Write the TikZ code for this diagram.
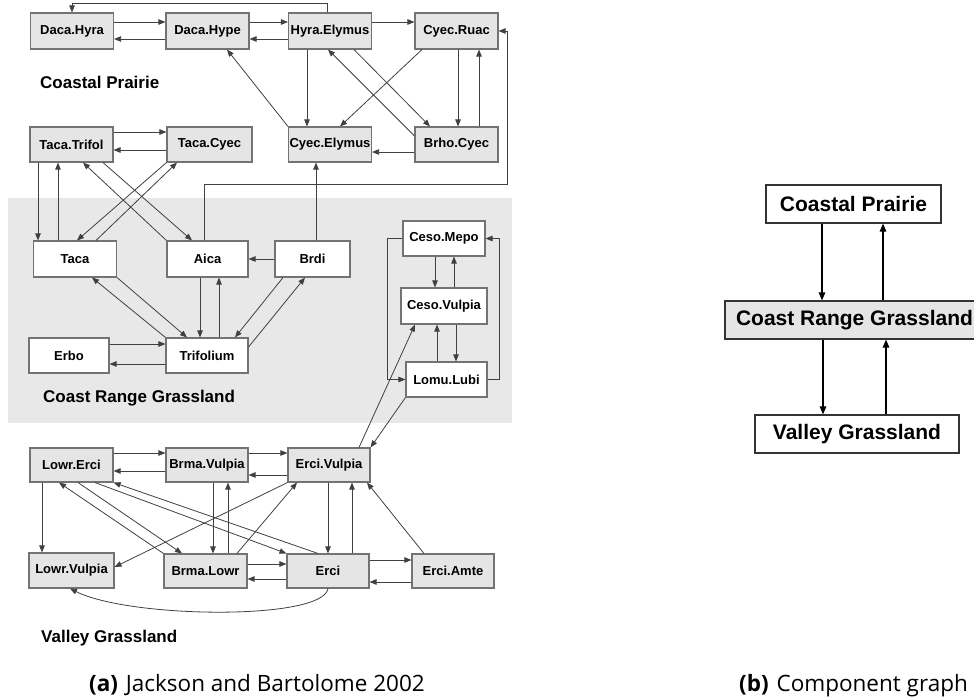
\documentclass[tikz,border=0pt]{standalone}
\usepackage{fontspec}
\setmainfont{Liberation Sans}
\newfontfamily\capfont{Open Sans}
\usetikzlibrary{arrows.meta}

\begin{document}
\begin{tikzpicture}[x=1pt,y=-1pt,
  boxbase/.style={draw=black!55, line width=1.1pt, minimum height=36pt,
    minimum width=83pt, inner sep=0pt, font=\bfseries\fontsize{13}{15}\selectfont},
  gbox/.style={boxbase, fill=gray!20},
  wbox/.style={boxbase, fill=white},
  conn/.style={draw=black!75, line width=0.8pt, -{Triangle[length=7pt,width=5.5pt]}},
  lbl/.style={inner sep=0pt, font=\bfseries\fontsize{17}{20}\selectfont},
  compbox/.style={draw=black!80, line width=1.2pt, fill=white, minimum height=38pt,
    inner sep=0pt, font=\bfseries\fontsize{21}{24}\selectfont},
  bigarr/.style={draw=black, line width=1.3pt, -{Triangle[length=8pt,width=6.5pt]}},
  captext/.style={inner sep=0pt, font=\capfont\fontsize{22.5}{26}\selectfont}
]
\useasboundingbox (0,0) rectangle (974,699);

% shaded band behind the coast range group
\fill[gray!18] (8,198) rectangle (512,423);

% ---- Coastal Prairie group ----
\node[gbox] (dhyra) at (72,31) {Daca.Hyra};
\node[gbox] (dhype) at (207.5,31) {Daca.Hype};
\node[gbox] (hyel) at (330,31) {Hyra.Elymus};
\node[gbox] (cyru) at (456.5,31) {Cyec.Ruac};
\node[gbox, minimum height=35pt] (tatr) at (71.5,144.5) {Taca.Trifol};
\node[gbox, minimum height=35pt, minimum width=85pt] (tacy) at (209.5,144.5) {Taca.Cyec};
\node[gbox, minimum height=35pt] (cyel) at (330,144.5) {Cyec.Elymus};
\node[gbox, minimum height=35pt] (brcy) at (456.5,144.5) {Brho.Cyec};

% ---- Coast Range Grassland group ----
\node[wbox] (taca) at (75,259) {Taca};
\node[wbox, minimum width=81pt] (aica) at (207.5,259) {Aica};
\node[wbox, minimum width=75pt] (brdi) at (312.5,259) {Brdi};
\node[wbox, minimum width=80pt, minimum height=35pt] (erbo) at (69,355.5) {Erbo};
\node[wbox, minimum width=82pt, minimum height=35pt] (trif) at (207,355.5) {Trifolium};
\node[wbox, minimum width=82pt, minimum height=35pt] (cemepo) at (444,238.5) {Ceso.Mepo};
\node[wbox, minimum width=86pt] (cevul) at (444,306) {Ceso.Vulpia};
\node[wbox, minimum width=81pt, minimum height=35pt] (lomu) at (446.5,379.5) {Lomu.Lubi};

% ---- Valley Grassland group ----
\node[gbox, minimum height=34pt] (loer) at (71.5,465) {Lowr.Erci};
\node[gbox, minimum height=34pt, minimum width=82pt] (brvu) at (207,465) {Brma.Vulpia};
\node[gbox, minimum height=34pt, minimum width=82pt] (ervu) at (329,465) {Erci.Vulpia};
\node[gbox, minimum height=35pt, minimum width=85pt] (lovu) at (71.5,570.5) {Lowr.Vulpia};
\node[gbox, minimum height=34pt] (brlo) at (205.5,571) {Brma.Lowr};
\node[gbox, minimum height=34pt, minimum width=82pt] (erci) at (328,571) {Erci};
\node[gbox, minimum height=34pt, minimum width=82pt] (eram) at (453,571) {Erci.Amte};

% group labels
\node[lbl, anchor=west] (lcp) at (40,82) {Coastal Prairie};
\node[lbl, anchor=west] (lcr) at (43,398) {Coast Range Grassland};
\node[lbl, anchor=west] (lvg) at (41,638) {Valley Grassland};

% ---- Coastal Prairie edges ----
\draw[conn] ([xshift=-3pt]hyel.north) -- ++(0,-9) -| (dhyra.north);
\draw[conn] ([yshift=9pt]dhyra.east) -- ([yshift=9pt]dhype.west);
\draw[conn] ([yshift=-8pt]dhype.west) -- ([yshift=-8pt]dhyra.east);
\draw[conn] ([yshift=9pt]dhype.east) -- ([yshift=9pt]hyel.west);
\draw[conn] ([yshift=-8pt]hyel.west) -- ([yshift=-8pt]dhype.east);
\draw[conn] ([yshift=9pt]hyel.east) -- ([yshift=9pt]cyru.west);
\draw[conn] ([xshift=-23pt]hyel.south) -- ([xshift=-23pt]cyel.north);
\draw[conn] ([xshift=-34.5pt]cyru.south) -- ([xshift=10pt]cyel.north);
\draw[conn] ([xshift=24pt]hyel.south) -- ([xshift=-26.5pt]brcy.north);
\draw[conn] ([yshift=8.5pt]brcy.west) -- ([xshift=-2pt]hyel.south);
\draw[conn] ([xshift=1.5pt]cyru.south) -- ([xshift=1.5pt]brcy.north);
\draw[conn] ([xshift=22.5pt]brcy.north) -- ([xshift=22.5pt]cyru.south);
\draw[conn] ([yshift=-7.5pt]brcy.west) -- ([yshift=-7.5pt]cyel.east);
\draw[conn] (cyel.north west) -- ([xshift=19.5pt]dhype.south);
\draw[conn] ([yshift=12.5pt]tatr.east) -- ([yshift=12.5pt]tacy.west);
\draw[conn] ([yshift=-5.5pt]tacy.west) -- ([yshift=-5.5pt]tatr.east);

% ---- edges reaching into the coast range group ----
\draw[conn] ([xshift=-3.5pt]aica.north) -- ++(0,-56) -- ++(303,0) |- (cyru.east);
\draw[conn] ([xshift=3.5pt]brdi.north) -- ([xshift=-14pt]cyel.south);
\draw[conn] ([xshift=-33.5pt]tatr.south) -- ([xshift=-37pt]taca.north);
\draw[conn] ([xshift=-17pt]taca.north) -- ([xshift=-13.5pt]tatr.south);
\draw[conn] (tacy.south west) -- ([xshift=2pt]taca.north);
\draw[conn] ([xshift=21pt]taca.north) -- ([xshift=-32.5pt]tacy.south);
\draw[conn] ([xshift=31.5pt]tatr.south) -- ([xshift=-15.5pt]aica.north);
\draw[conn] (aica.north west) -- ([xshift=11.5pt]tatr.south);

% ---- Coast Range Grassland edges ----
\draw[conn] (brdi.west) -- (aica.east);
\draw[conn] ([xshift=-7.5pt]aica.south) -- ([xshift=-7pt]trif.north);
\draw[conn] ([xshift=12pt]trif.north) -- ([xshift=11.5pt]aica.south);
\draw[conn] (taca.south east) -- ([xshift=-20pt]trif.north);
\draw[conn] (trif.north west) -- ([xshift=17pt]taca.south);
\draw[conn] ([xshift=-29.5pt]brdi.south) -- ([xshift=28pt]trif.north);
\draw[conn] ([yshift=8.5pt]trif.east) -- ([xshift=-7.5pt]brdi.south);
\draw[conn] ([yshift=11.5pt]erbo.east) -- ([yshift=11.5pt]trif.west);
\draw[conn] ([yshift=-8.5pt]trif.west) -- ([yshift=-8.5pt]erbo.east);
\draw[conn] ([xshift=-9pt]cemepo.south) -- ([xshift=-9pt]cevul.north);
\draw[conn] ([xshift=10pt]cevul.north) -- ([xshift=10pt]cemepo.south);
\draw[conn] ([xshift=12pt]cevul.south) -- ([xshift=9.5pt]lomu.north);
\draw[conn] ([xshift=-9.5pt]lomu.north) -- ([xshift=-7pt]cevul.south);
\draw[conn] (cemepo.west) -- ++(-15,0) |- (lomu.west);
\draw[conn] (lomu.east) -- ++(12,0) |- (cemepo.east);

% ---- links between valley and coast range ----
\draw[conn] ([xshift=30pt]ervu.north) -- ([xshift=-29pt]cevul.south);
\draw[conn] (lomu.south west) -- (ervu.north east);

% ---- Valley Grassland edges ----
\draw[conn] ([yshift=12pt]loer.east) -- ([yshift=12pt]brvu.west);
\draw[conn] ([yshift=-6pt]brvu.west) -- ([yshift=-6pt]loer.east);
\draw[conn] ([yshift=12pt]brvu.east) -- ([yshift=12pt]ervu.west);
\draw[conn] ([yshift=-10pt]ervu.west) -- ([yshift=-10pt]brvu.east);
\draw[conn] ([xshift=-29.5pt]loer.south) -- ([xshift=-29.5pt]lovu.north);
\draw[conn] ([xshift=6.5pt]loer.south) -- ([xshift=-23.5pt]brlo.north);
\draw[conn] (brlo.north west) -- ([xshift=-12.5pt]loer.south);
\draw[conn] ([xshift=23.5pt]loer.south) -- (erci.north west);
\draw[conn] ([xshift=-10pt]erci.north) -- (loer.south east);
\draw[conn] ([xshift=6pt]brvu.south) -- ([xshift=7.5pt]brlo.north);
\draw[conn] ([xshift=22.5pt]brlo.north) -- ([xshift=21pt]brvu.south);
\draw[conn] (ervu.south west) -- ([yshift=3.5pt]lovu.east);
\draw[conn] ([xshift=31.5pt]brlo.north) -- ([xshift=-32pt]ervu.south);
\draw[conn] ([xshift=-1pt]ervu.south) -- (erci.north);
\draw[conn] ([xshift=24pt]erci.north) -- ([xshift=23pt]ervu.south);
\draw[conn] ([yshift=7pt]brlo.east) -- ([yshift=7pt]erci.west);
\draw[conn] ([yshift=-8pt]erci.west) -- ([yshift=-8pt]brlo.east);
\draw[conn] ([yshift=11pt]erci.east) -- ([yshift=11pt]eram.west);
\draw[conn] ([yshift=-11pt]eram.west) -- ([yshift=-11pt]erci.east);
\draw[conn] ([xshift=-29pt]eram.north) -- ([xshift=38pt]ervu.south);
\draw[conn] (erci.south) .. controls +(-5,32) and +(60,30) .. ([xshift=-1.5pt]lovu.south);

% ---- component graph ----
\node[compbox, minimum width=175pt] (cp) at (853.5,204) {Coastal Prairie};
\node[compbox, fill=gray!20, minimum width=259pt] (crg) at (854.5,320) {Coast Range Grassland};
\node[compbox, minimum width=204pt] (vg) at (857,434) {Valley Grassland};
\draw[bigarr] ([xshift=-31.5pt]cp.south) -- ([xshift=-32.5pt]crg.north);
\draw[bigarr] ([xshift=28.5pt]crg.north) -- ([xshift=29.5pt]cp.south);
\draw[bigarr] ([xshift=-31.5pt]crg.south) -- ([xshift=-34pt]vg.north);
\draw[bigarr] ([xshift=29pt]vg.north) -- ([xshift=31.5pt]crg.south);

% ---- captions ----
\node[captext, anchor=base west] (capa) at (89,691) {\textbf{(a)}\hspace{0.35em}Jackson and Bartolome 2002};
\node[captext, anchor=base west] (capb) at (739,691) {\textbf{(b)}\hspace{0.35em}Component graph};
\end{tikzpicture}
\end{document}
